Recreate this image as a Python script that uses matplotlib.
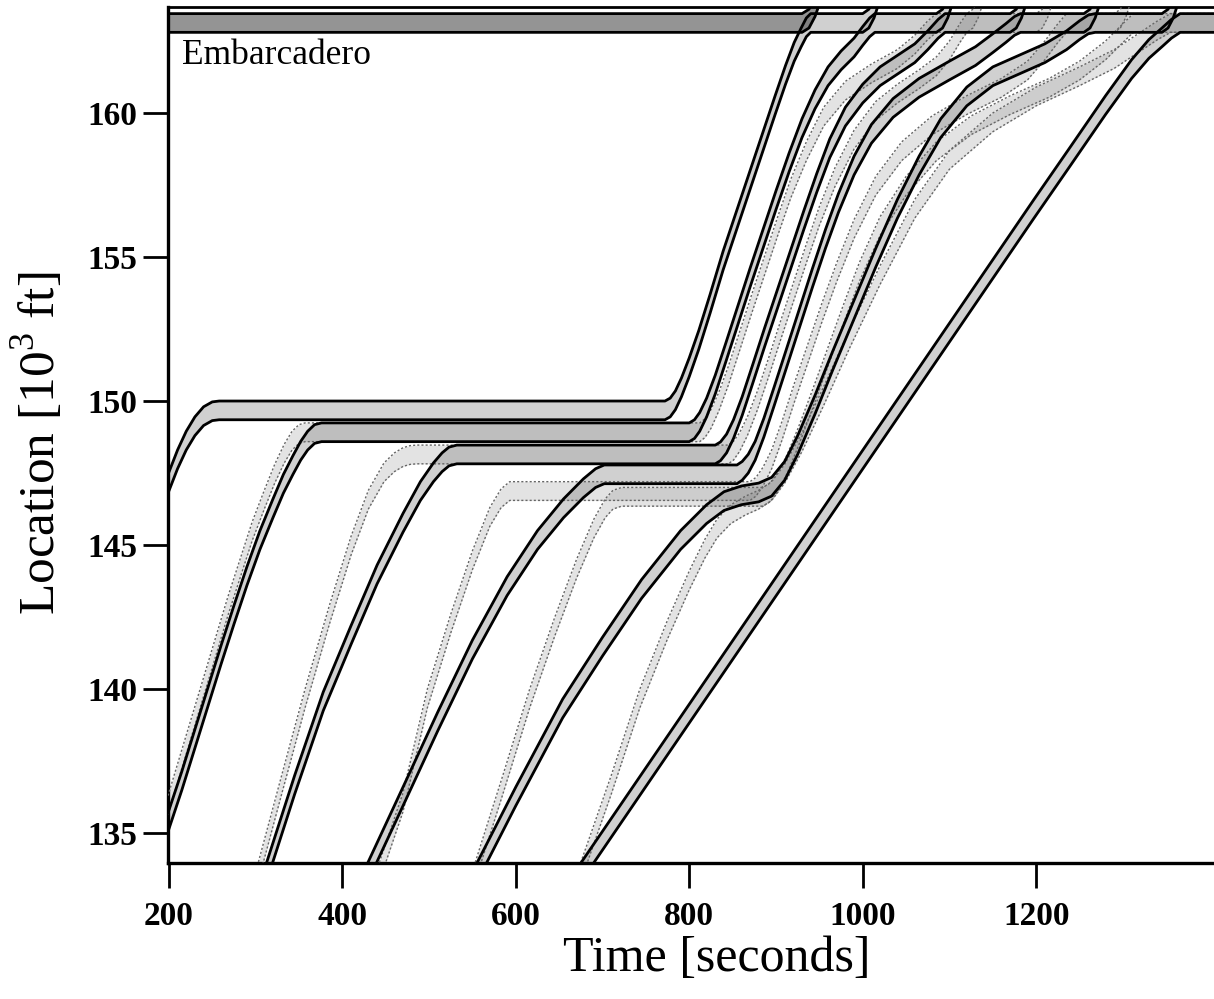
import matplotlib.pyplot as plt

plt.rcParams['font.family'] = ['Liberation Serif', 'DejaVu Serif']
plt.rcParams['mathtext.fontset'] = 'custom'
plt.rcParams['mathtext.rm'] = 'Liberation Serif'

# train length [10^3 ft]
L_TRAIN = 0.65

# front-of-train trajectories, time [s] and location [10^3 ft]
# train already sitting at Embarcadero
t_e0 = [199, 930, 938, 945, 952]
x_e0 = [163.45, 163.45, 163.6, 164.0, 164.6]

# controlled trains (solid)
t_s1 = [199, 210, 220, 230, 240, 250, 258, 772, 778, 784, 791, 800, 811, 824, 839, 854, 869, 884, 899, 911, 921, 929, 935, 940, 1000, 1007, 1013, 1019]
x_s1 = [147.45, 148.3, 148.95, 149.45, 149.8, 149.97, 150.0, 150.0, 150.1, 150.35, 150.8, 151.5, 152.45, 153.7, 155.2, 156.55, 157.9, 159.25, 160.6, 161.65, 162.45, 162.95, 163.3, 163.45, 163.45, 163.6, 163.95, 164.5]

t_s2 = [199, 215, 230, 245, 260, 275, 290, 305, 320, 332, 343, 352, 360, 368, 376, 800, 806, 812, 820, 830, 842, 856, 870, 885, 900, 915, 930, 945, 960, 975, 990, 1000, 1008, 1014, 1085, 1092, 1098, 1104]
x_s2 = [135.7, 137.15, 138.6, 140.05, 141.5, 142.9, 144.25, 145.5, 146.6, 147.45, 148.1, 148.6, 148.95, 149.18, 149.24, 149.24, 149.35, 149.6, 150.1, 150.9, 152.0, 153.3, 154.6, 155.95, 157.3, 158.6, 159.8, 160.8, 161.6, 162.15, 162.6, 163.0, 163.3, 163.45, 163.45, 163.6, 163.95, 164.5]

t_s3 = [306, 345, 378, 410, 440, 470, 490, 505, 515, 523, 532, 830, 836, 843, 851, 861, 873, 887, 902, 917, 932, 947, 962, 980, 1000, 1020, 1040, 1060, 1075, 1087, 1095, 1170, 1177, 1183, 1189]
x_s3 = [133.35, 137.0, 139.9, 142.2, 144.3, 146.1, 147.2, 147.85, 148.2, 148.4, 148.47, 148.47, 148.58, 148.85, 149.35, 150.15, 151.25, 152.55, 153.9, 155.25, 156.6, 157.9, 159.1, 160.2, 161.0, 161.6, 162.0, 162.4, 162.85, 163.25, 163.45, 163.45, 163.6, 163.95, 164.5]

t_s4 = [419, 470, 510, 550, 590, 625, 655, 678, 692, 702, 855, 861, 868, 876, 886, 898, 912, 927, 942, 957, 972, 990, 1010, 1035, 1065, 1100, 1130, 1150, 1165, 1175, 1182, 1255, 1262, 1268, 1274]
x_s4 = [133.3, 136.6, 139.2, 141.7, 143.9, 145.5, 146.6, 147.3, 147.65, 147.78, 147.78, 147.9, 148.15, 148.6, 149.4, 150.5, 151.8, 153.2, 154.6, 155.95, 157.2, 158.5, 159.6, 160.5, 161.2, 161.8, 162.3, 162.75, 163.1, 163.35, 163.45, 163.45, 163.6, 163.95, 164.5]

t_s5 = [544, 600, 654, 700, 745, 790, 820, 840, 860, 880, 895, 910, 925, 945, 965, 990, 1015, 1040, 1065, 1090, 1120, 1150, 1180, 1210, 1235, 1250, 1260, 1268, 1345, 1352, 1358, 1364]
x_s5 = [133.3, 136.6, 139.65, 141.8, 143.8, 145.5, 146.4, 146.85, 147.05, 147.15, 147.35, 147.9, 148.8, 150.2, 151.7, 153.5, 155.3, 157.0, 158.5, 159.8, 160.9, 161.6, 162.0, 162.4, 162.85, 163.2, 163.4, 163.45, 163.45, 163.6, 163.95, 164.5]

t_s6 = [660, 1197, 1240, 1280, 1310, 1330, 1345, 1356, 1366, 1410]
x_s6 = [133.3, 156.98, 158.85, 160.6, 161.85, 162.55, 162.95, 163.25, 163.45, 163.45]

# uncontrolled trains (grey, dotted)
t_g2 = [199, 212, 226, 240, 254, 268, 282, 296, 310, 322, 333, 342, 350, 357, 812, 818, 825, 834, 845, 858, 872, 887, 902, 917, 935, 955, 980, 1010, 1040, 1060, 1075, 1085, 1120, 1127, 1133, 1139]
x_g2 = [136.3, 137.6, 139.0, 140.4, 141.8, 143.2, 144.5, 145.8, 146.9, 147.8, 148.5, 148.95, 149.18, 149.24, 149.24, 149.38, 149.7, 150.3, 151.2, 152.4, 153.7, 155.05, 156.4, 157.7, 159.0, 160.2, 161.1, 161.7, 162.2, 162.7, 163.2, 163.45, 163.45, 163.6, 163.95, 164.5]

t_g3 = [297, 330, 357, 385, 410, 430, 448, 460, 470, 478, 486, 845, 851, 858, 867, 878, 891, 905, 920, 935, 950, 968, 990, 1015, 1040, 1065, 1085, 1100, 1112, 1120, 1200, 1207, 1213, 1219]
x_g3 = [133.3, 137.0, 140.0, 142.9, 145.3, 146.9, 147.85, 148.2, 148.38, 148.45, 148.47, 148.47, 148.6, 148.9, 149.45, 150.3, 151.45, 152.75, 154.1, 155.45, 156.75, 158.1, 159.4, 160.4, 161.0, 161.5, 161.95, 162.5, 163.1, 163.45, 163.45, 163.6, 163.95, 164.5]

t_g4 = [435, 470, 498, 525, 550, 570, 583, 593, 870, 877, 885, 895, 907, 921, 937, 953, 970, 990, 1015, 1045, 1080, 1120, 1160, 1190, 1210, 1225, 1235, 1290, 1297, 1303, 1309]
x_g4 = [133.3, 136.4, 140.0, 142.6, 144.8, 146.3, 146.95, 147.2, 147.2, 147.35, 147.7, 148.3, 149.3, 150.6, 152.0, 153.4, 154.8, 156.3, 157.8, 159.0, 159.9, 160.6, 161.2, 161.8, 162.5, 163.1, 163.45, 163.45, 163.6, 163.95, 164.5]

t_g5 = [546, 585, 616, 645, 670, 690, 703, 712, 722, 885, 893, 902, 913, 926, 941, 958, 976, 996, 1020, 1050, 1085, 1125, 1170, 1215, 1250, 1280, 1300, 1312, 1410]
x_g5 = [133.3, 137.0, 140.0, 142.5, 144.5, 145.9, 146.6, 146.9, 147.0, 147.0, 147.15, 147.5, 148.15, 149.1, 150.3, 151.7, 153.2, 154.8, 156.4, 157.8, 159.0, 159.9, 160.6, 161.2, 161.8, 162.5, 163.1, 163.45, 163.45]

t_g6 = [667, 710, 743, 775, 800, 818, 832, 848, 865, 880, 895, 910, 930, 955, 985, 1020, 1060, 1100, 1150, 1200, 1250, 1290, 1320, 1340, 1355, 1410]
x_g6 = [133.3, 137.0, 140.0, 142.4, 144.1, 145.2, 145.9, 146.4, 146.7, 146.9, 147.2, 147.8, 148.9, 150.5, 152.5, 154.7, 157.0, 158.7, 160.0, 160.9, 161.6, 162.2, 162.8, 163.2, 163.45, 163.45]

solid_trains = [(t_s1, x_s1), (t_s2, x_s2), (t_s3, x_s3), (t_s4, x_s4), (t_s5, x_s5), (t_s6, x_s6)]
grey_trains = [(t_g2, x_g2), (t_g3, x_g3), (t_g4, x_g4), (t_g5, x_g5), (t_g6, x_g6)]

fig = plt.figure(figsize=(12.14, 9.99), dpi=100)
ax = fig.add_axes([0.1384, 0.1361, 0.8616, 0.8569])


def draw_train(t, x, solid=True):
    rear = [v - L_TRAIN for v in x]
    if solid:
        ax.fill_between(t, rear, x, color='0.45', alpha=0.33, lw=0, zorder=2)
        ax.plot(t, x, color='k', lw=2.0, zorder=4)
        ax.plot(t, rear, color='k', lw=2.0, zorder=4)
    else:
        ax.fill_between(t, rear, x, color='0.5', alpha=0.22, lw=0, zorder=1)
        ax.plot(t, x, color='0.4', lw=1.0, ls=(0, (1.5, 1.5)), zorder=3)
        ax.plot(t, rear, color='0.4', lw=1.0, ls=(0, (1.5, 1.5)), zorder=3)


for t, x in grey_trains:
    draw_train(t, x, solid=False)
for t, x in solid_trains:
    draw_train(t, x, solid=True)

# Embarcadero platform band
ax.fill_between(t_e0, [v - L_TRAIN for v in x_e0], x_e0, color='0.3', alpha=0.6, lw=0, zorder=2)
ax.plot(t_e0, x_e0, color='k', lw=2.0, zorder=4)
ax.plot(t_e0, [v - L_TRAIN for v in x_e0], color='k', lw=2.0, zorder=4)

ax.text(215, 162.0, 'Embarcadero', fontsize=25.5, va='center', ha='left')

ax.set_xlim(199, 1405)
ax.set_ylim(133.96, 163.68)
ax.set_xticks([200, 400, 600, 800, 1000, 1200])
ax.set_yticks([135, 140, 145, 150, 155, 160])
ax.tick_params(axis='x', direction='out', length=18, width=2.0, labelsize=24, pad=9)
ax.tick_params(axis='y', direction='out', length=18, width=2.0, labelsize=24, pad=4)
for lab in ax.get_xticklabels() + ax.get_yticklabels():
    lab.set_fontweight('bold')
ax.spines['right'].set_visible(False)
ax.spines['left'].set_linewidth(2.4)
ax.spines['bottom'].set_linewidth(2.4)
ax.spines['top'].set_linewidth(2.0)

ax.set_xlabel('Time [seconds]', fontsize=36, labelpad=2)
ax.xaxis.set_label_coords(0.525, -0.085)
ax.set_ylabel(r'Location [10$^{\mathrm{3}}$ ft]', fontsize=37)
ax.yaxis.set_label_coords(-0.097, 0.49)

fig.savefig('out.png', dpi=100)
